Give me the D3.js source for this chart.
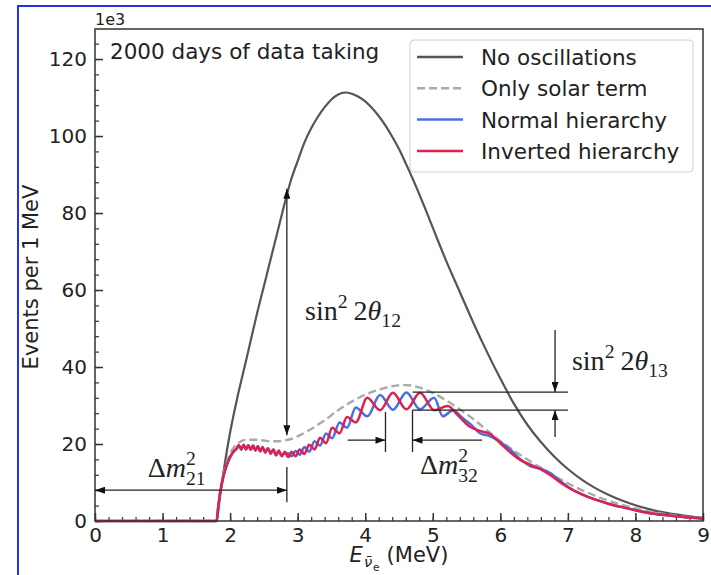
<!DOCTYPE html>
<html>
<head>
<meta charset="utf-8">
<script src="https://cdn.jsdelivr.net/npm/d3@7"></script>
<style>
  body { margin: 0; background: #fff; }
  text { fill: #222; }
</style>
</head>
<body>
<svg id="chart"></svg>
<script>
// energy (MeV) and events (x1e3)
var noOscE = [0, 1.8, 1.85, 1.9, 2.0, 2.1, 2.2, 2.3, 2.4, 2.5, 2.6, 2.7, 2.8, 2.9, 3.0, 3.1, 3.2, 3.3, 3.4, 3.5, 3.6, 3.7, 3.8, 3.9, 4.0, 4.1, 4.2, 4.3, 4.4, 4.5, 4.6, 4.7, 4.8, 4.9, 5.0, 5.2, 5.4, 5.6, 5.8, 6.0, 6.2, 6.4, 6.6, 6.8, 7.0, 7.2, 7.4, 7.6, 7.8, 8.0, 8.2, 8.4, 8.6, 8.8, 9.0];
var noOscN = [0, 0, 6.5, 12.5, 23, 31.5, 39, 46.5, 54, 61, 68, 75, 82, 88.5, 93.5, 98.3, 102, 105, 107.5, 109.5, 110.8, 111.3, 111.0, 110.2, 109.0, 107.3, 105.2, 102.7, 99.8, 96.6, 92.9, 89.0, 84.9, 80.6, 76.2, 67.5, 59.5, 51.5, 44, 37, 30.5, 25, 20.5, 16.7, 13.5, 10.8, 8.6, 6.8, 5.3, 4.1, 3.1, 2.3, 1.7, 1.2, 0.8];

var solarE = [0, 1.8, 1.85, 1.9, 1.95, 2.0, 2.05, 2.1, 2.15, 2.2, 2.3, 2.4, 2.5, 2.6, 2.7, 2.8, 2.9, 3.0, 3.2, 3.4, 3.6, 3.8, 4.0, 4.2, 4.4, 4.6, 4.8, 5.0, 5.2, 5.4, 5.6, 5.8, 6.0, 6.2, 6.4, 6.6, 6.8, 7.0, 7.2, 7.4, 7.6, 7.8, 8.0, 8.2, 8.4, 8.6, 8.8, 9.0];
var solarN = [0, 0, 7.5, 12, 15.2, 17.5, 19, 20, 20.6, 21, 21.1, 21.1, 20.9, 20.7, 20.7, 20.9, 21.3, 22.0, 23.9, 26.2, 28.8, 31.0, 32.8, 34.1, 35.0, 35.3, 34.7, 33.3, 31.3, 29.0, 26.5, 23.6, 20.8, 18.3, 16.0, 13.8, 11.7, 9.8, 8.1, 6.6, 5.3, 4.2, 3.3, 2.5, 1.9, 1.4, 1.0, 0.7];

var normalE = [0, 1.8, 1.82, 1.85, 1.9, 1.95, 2.0, 2.05, 2.1, 2.13, 2.165, 2.2, 2.235, 2.27, 2.305, 2.34, 2.375, 2.41, 2.445, 2.48, 2.52, 2.56, 2.6, 2.64, 2.68, 2.72, 2.765, 2.81, 2.86, 2.91, 2.97, 3.03, 3.1, 3.17, 3.25, 3.33, 3.42, 3.51, 3.62, 3.73, 3.86, 4.03, 4.22, 4.41, 4.61, 4.81, 5.02, 5.15, 5.3, 5.45, 5.55, 5.7, 5.85, 6.0, 6.15, 6.3, 6.45, 6.6, 6.75, 6.9, 7.05, 7.2, 7.4, 7.6, 7.8, 8.0, 8.2, 8.4, 8.6, 8.8, 9.0];
var normalN = [0, 0, 3, 7, 11.5, 14.5, 16.6, 18.0, 18.9, 19.7, 18.6, 19.8, 18.6, 19.7, 18.5, 19.6, 18.3, 19.4, 18.1, 19.2, 17.8, 18.9, 17.5, 18.6, 17.1, 17.9, 17.2, 17.5, 17.6, 16.8, 18.2, 17.2, 19.2, 18.0, 20.7, 19.6, 22.7, 21.5, 25.6, 24.2, 29.5, 27.2, 32.7, 28.9, 33.4, 29.0, 32.0, 27.2, 28.8, 26.6, 25.3, 22.8, 22.0, 20.5, 18.5, 16.0, 14.2, 13.6, 12.3, 10.2, 8.3, 7.0, 5.6, 4.5, 3.6, 2.8, 2.1, 1.6, 1.2, 0.9, 0.6];

var invertedE = [0, 1.8, 1.82, 1.85, 1.9, 1.95, 2.0, 2.05, 2.1, 2.13, 2.165, 2.2, 2.235, 2.27, 2.305, 2.34, 2.375, 2.41, 2.445, 2.48, 2.52, 2.56, 2.6, 2.64, 2.68, 2.72, 2.765, 2.81, 2.86, 2.91, 2.97, 3.03, 3.1, 3.17, 3.25, 3.33, 3.42, 3.51, 3.62, 3.73, 3.86, 4.03, 4.22, 4.41, 4.61, 4.81, 5.02, 5.22, 5.38, 5.55, 5.7, 5.85, 6.0, 6.15, 6.3, 6.45, 6.6, 6.75, 6.9, 7.05, 7.2, 7.4, 7.6, 7.8, 8.0, 8.2, 8.4, 8.6, 8.8, 9.0];
var invertedN = [0, 0, 3, 7, 11.5, 14.5, 16.6, 18.0, 18.9, 19.7, 18.6, 19.8, 18.6, 19.7, 18.5, 19.6, 18.3, 19.4, 18.1, 19.2, 17.8, 18.9, 17.5, 18.6, 17.1, 18.3, 16.8, 18.0, 16.6, 18.0, 16.8, 18.6, 17.4, 19.8, 18.6, 21.6, 20.2, 24.2, 22.8, 27.0, 25.6, 32.0, 28.8, 33.3, 29.0, 33.3, 28.8, 29.9, 27.3, 24.5, 23.4, 22.6, 20.2, 17.8, 15.8, 14.6, 13.4, 11.8, 9.9, 8.3, 7.0, 5.6, 4.5, 3.6, 2.8, 2.1, 1.6, 1.2, 0.9, 0.6];

var seriesNames = ["No oscillations", "Only solar term", "Normal hierarchy", "Inverted hierarchy"];
var xTicks = [0, 1, 2, 3, 4, 5, 6, 7, 8, 9];
var yTicks = [0, 20, 40, 60, 80, 100, 120];

var W = 711, H = 575;
var plotL = 95, plotR = 703, plotT = 29, plotB = 521;
var sans = "DejaVu Sans, sans-serif";
var serif = "Liberation Serif, DejaVu Serif, serif";

var svg = d3.select("#chart")
  .attr("width", W)
  .attr("height", H)
  .style("font-family", sans);

// blue frame around the figure
svg.append("rect")
  .attr("x", 18).attr("y", 6)
  .attr("width", 720).attr("height", 600)
  .attr("fill", "none")
  .attr("stroke", "#2430f0")
  .attr("stroke-width", 2);

var x = d3.scaleLinear().domain([0, 9]).range([plotL, plotR]);
var y = d3.scaleLinear().domain([0, 127.8]).range([plotB, plotT]);

function pts(es, ns) {
  return es.map(function(e, i) { return [e, ns[i]]; });
}

var line = d3.line()
  .x(function(d) { return x(d[0]); })
  .y(function(d) { return y(d[1]); })
  .curve(d3.curveMonotoneX);

// ticks (inward, major + minor)
var minorX = d3.range(0, 9.001, 0.2).map(function(v) { return +v.toFixed(1); });
var minorY = d3.range(0, 127, 4);

svg.append("g")
  .attr("transform", "translate(0," + plotB + ")")
  .call(d3.axisBottom(x).tickValues(minorX).tickSize(-4).tickFormat(""))
  .call(function(g) { g.select(".domain").remove(); g.selectAll("line").attr("stroke", "#333").attr("stroke-width", 1.2); });

svg.append("g")
  .attr("transform", "translate(" + plotL + ",0)")
  .call(d3.axisLeft(y).tickValues(minorY).tickSize(-4).tickFormat(""))
  .call(function(g) { g.select(".domain").remove(); g.selectAll("line").attr("stroke", "#333").attr("stroke-width", 1.2); });

svg.append("g")
  .attr("transform", "translate(0," + plotB + ")")
  .call(d3.axisBottom(x).tickValues(xTicks).tickSize(-8).tickPadding(7).tickFormat(d3.format("d")))
  .call(function(g) {
    g.select(".domain").remove();
    g.selectAll("line").attr("stroke", "#333").attr("stroke-width", 1.5);
    g.selectAll("text").style("font-size", "20px").style("font-family", sans).attr("fill", "#222");
  });

svg.append("g")
  .attr("transform", "translate(" + plotL + ",0)")
  .call(d3.axisLeft(y).tickValues(yTicks).tickSize(-8).tickPadding(8).tickFormat(d3.format("d")))
  .call(function(g) {
    g.select(".domain").remove();
    g.selectAll("line").attr("stroke", "#333").attr("stroke-width", 1.5);
    g.selectAll("text").style("font-size", "20px").style("font-family", sans).attr("fill", "#222");
  });

// curves
svg.append("path")
  .attr("d", line(pts(noOscE, noOscN)))
  .attr("fill", "none").attr("stroke", "#555").attr("stroke-width", 2.2);

svg.append("path")
  .attr("d", line(pts(solarE, solarN)))
  .attr("fill", "none").attr("stroke", "#aaa").attr("stroke-width", 2.4)
  .attr("stroke-dasharray", "8,4");

svg.append("path")
  .attr("d", line(pts(normalE, normalN)))
  .attr("fill", "none").attr("stroke", "#4a6ee0").attr("stroke-width", 2.5);

svg.append("path")
  .attr("d", line(pts(invertedE, invertedN)))
  .attr("fill", "none").attr("stroke", "#dc2150").attr("stroke-width", 2.5);

// frame
svg.append("rect")
  .attr("x", plotL).attr("y", plotT)
  .attr("width", plotR - plotL).attr("height", plotB - plotT)
  .attr("fill", "none").attr("stroke", "#333").attr("stroke-width", 1.5);

svg.append("text")
  .attr("x", plotL).attr("y", 25)
  .style("font-size", "16px")
  .text("1e3");

// annotations
var defs = svg.append("defs");
defs.append("marker")
  .attr("id", "head")
  .attr("viewBox", "0 0 10 7")
  .attr("refX", 10).attr("refY", 3.5)
  .attr("markerWidth", 10).attr("markerHeight", 7)
  .attr("markerUnits", "userSpaceOnUse")
  .attr("orient", "auto-start-reverse")
  .append("path").attr("d", "M0,0L10,3.5L0,7z").attr("fill", "#111");

var ann = svg.append("g").attr("stroke", "#222").attr("stroke-width", 1.3).attr("fill", "none");

function seg(x1, y1, x2, y2, start, end) {
  var l = ann.append("line")
    .attr("x1", x(x1)).attr("y1", y(y1))
    .attr("x2", x(x2)).attr("y2", y(y2));
  if (start) l.attr("marker-start", "url(#head)");
  if (end) l.attr("marker-end", "url(#head)");
}

seg(2.84, 22.3, 2.84, 86.3, true, true);   // sin^2 2theta12
seg(2.84, 4.9, 2.84, 14.0, false, false);
seg(0.0, 8.0, 2.84, 8.0, true, true);      // dm21
seg(3.74, 21.0, 4.30, 21.0, false, true);  // dm32
seg(5.73, 21.0, 4.70, 21.0, false, true);
seg(4.30, 17.9, 4.30, 28.3, false, false);
seg(4.70, 17.9, 4.70, 28.8, false, false);
seg(4.70, 33.5, 7.0, 33.5, false, false);  // sin^2 2theta13
seg(4.70, 28.8, 7.0, 28.8, false, false);
seg(6.81, 49.6, 6.81, 33.5, false, true);
seg(6.81, 21.8, 6.81, 28.8, false, true);

function mathText(g, px, py, size, pieces, family) {
  var cx = px;
  pieces.forEach(function(p) {
    var s = size * (p.s || 1);
    var t = g.append("text")
      .attr("x", cx).attr("y", py + (p.dy || 0) * size)
      .style("font-size", s + "px")
      .style("font-family", family)
      .style("font-style", p.it ? "italic" : "normal")
      .style("white-space", "pre")
      .text(p.t);
    if (!p.keep) cx += t.node().getComputedTextLength() + (p.gap || 0);
  });
  return cx - px;
}

mathText(svg, x(3.11), y(52.2), 28, [
  {t: "sin"}, {t: "2", s: 0.7, dy: -0.42, gap: 6}, {t: "2"}, {t: "θ", it: true}, {t: "12", s: 0.7, dy: 0.25}
], serif);
mathText(svg, x(7.06), y(39.2), 28, [
  {t: "sin"}, {t: "2", s: 0.7, dy: -0.42, gap: 6}, {t: "2"}, {t: "θ", it: true}, {t: "13", s: 0.7, dy: 0.25}
], serif);
mathText(svg, x(0.78), y(11.4), 28, [
  {t: "Δ"}, {t: "m", it: true}, {t: "2", s: 0.7, dy: -0.42, keep: true}, {t: "21", s: 0.7, dy: 0.28}
], serif);
mathText(svg, x(4.81), y(12.2), 28, [
  {t: "Δ"}, {t: "m", it: true}, {t: "2", s: 0.7, dy: -0.42, keep: true}, {t: "32", s: 0.7, dy: 0.28}
], serif);

// axis labels
var xl = svg.append("g");
var xw = mathText(xl, 0, 0, 21, [
  {t: "E", it: true, gap: 1}, {t: "ν\u0304", s: 0.7, dy: 0.25, it: true, gap: 1}, {t: "e", s: 0.5, dy: 0.45, gap: 7}, {t: "(MeV)"}
], sans);
xl.attr("transform", "translate(" + ((plotL + plotR) / 2 - xw / 2) + ",562)");

svg.append("text")
  .attr("transform", "translate(38,277) rotate(-90)")
  .attr("text-anchor", "middle")
  .style("font-size", "21px")
  .text("Events per 1 MeV");

svg.append("text")
  .attr("x", 110).attr("y", 59)
  .style("font-size", "21.5px")
  .text("2000 days of data taking");

// legend
var legend = svg.append("g");
legend.append("rect")
  .attr("x", 410).attr("y", 40)
  .attr("width", 283).attr("height", 132)
  .attr("rx", 4)
  .attr("fill", "#fff").attr("fill-opacity", 0.85)
  .attr("stroke", "#d0d0d0");

var legColors = ["#555", "#aaa", "#4a6ee0", "#dc2150"];
var legDash = [null, "8,4", null, null];
seriesNames.forEach(function(name, i) {
  var cy = 57 + i * 31.3;
  legend.append("line")
    .attr("x1", 417).attr("x2", 463)
    .attr("y1", cy).attr("y2", cy)
    .attr("stroke", legColors[i]).attr("stroke-width", 2.5)
    .attr("stroke-dasharray", legDash[i]);
  legend.append("text")
    .attr("x", 481).attr("y", cy + 8)
    .style("font-size", "21.5px")
    .text(name);
});
</script>
</body>
</html>
